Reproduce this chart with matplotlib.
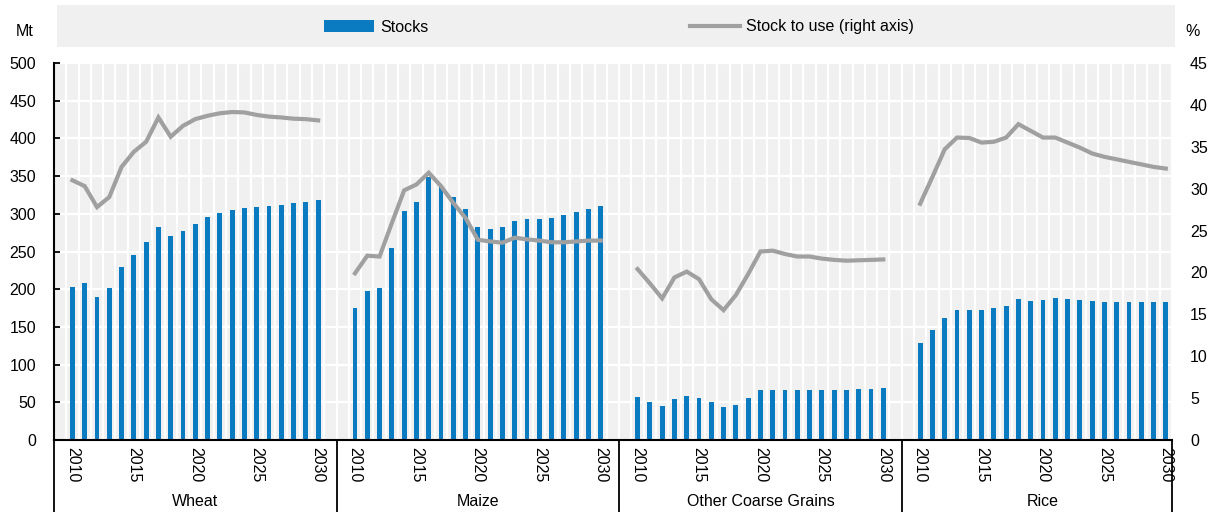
import matplotlib
matplotlib.use("Agg")
import matplotlib.pyplot as plt
from matplotlib.patches import Rectangle
import matplotlib.transforms as mtransforms

plt.rcParams['font.family'] = ['Liberation Sans', 'DejaVu Sans']
plt.rcParams['font.size'] = 11.5

# data
years = list(range(2010, 2031))
groups = ["Wheat", "Maize", "Other Coarse Grains", "Rice"]

wheat_stocks = [203, 208, 190, 201, 229, 245, 262, 283, 270, 277, 287, 296, 301, 305, 308, 309, 310, 312, 314, 316, 318]
maize_stocks = [175, 197, 201, 254, 304, 316, 349, 337, 322, 307, 283, 280, 282, 291, 293, 293, 295, 298, 302, 306, 310]
ocg_stocks = [57, 50, 45, 54, 58, 56, 50, 44, 47, 56, 66, 66, 66, 66, 66, 66, 66, 66, 67, 68, 69]
rice_stocks = [128, 146, 162, 172, 173, 172, 175, 178, 187, 185, 186, 188, 187, 186, 184, 183, 183, 183, 183, 183, 183]

wheat_stu = [31.0, 30.3, 27.8, 29.0, 32.6, 34.4, 35.6, 38.5, 36.2, 37.5, 38.3, 38.7, 39.0, 39.15, 39.1, 38.8, 38.6, 38.5, 38.35, 38.3, 38.15]
maize_stu = [19.9, 22.0, 21.9, 25.9, 29.8, 30.5, 31.9, 30.3, 28.3, 26.5, 23.9, 23.7, 23.55, 24.15, 23.95, 23.8, 23.6, 23.6, 23.7, 23.8, 23.8]
ocg_stu = [20.4, 18.7, 16.9, 19.4, 20.1, 19.2, 16.8, 15.5, 17.3, 19.8, 22.5, 22.6, 22.2, 21.9, 21.9, 21.65, 21.5, 21.4, 21.45, 21.5, 21.55]
rice_stu = [28.2, 31.4, 34.7, 36.1, 36.05, 35.5, 35.6, 36.1, 37.7, 36.9, 36.1, 36.1, 35.5, 34.9, 34.2, 33.8, 33.5, 33.2, 32.9, 32.6, 32.4]

stocks = [wheat_stocks, maize_stocks, ocg_stocks, rice_stocks]
stu = [wheat_stu, maize_stu, ocg_stu, rice_stu]

blue = "#0A7BC1"
grey = "#A0A0A0"
bg = "#F0F0F0"
slot = 23  # 21 years + gap per group

fig = plt.figure(figsize=(12.11, 5.12), dpi=100)
ax = fig.add_axes([54 / 1211, 1 - 440 / 512, (1172 - 54) / 1211, (440 - 63) / 512])
ax.set_facecolor(bg)
ax2 = ax.twinx()

xticks, xlabels = [], []
bar_handle = None
line_handle = None
for g in range(4):
    xs = [g * slot + (y - 2010) for y in years]
    b = ax.bar(xs, stocks[g], width=0.4, color=blue, zorder=2)
    l, = ax2.plot(xs, stu[g], color=grey, lw=3, solid_joinstyle='miter')
    bar_handle, line_handle = b, l
    for y in range(2010, 2031, 5):
        xticks.append(g * slot + (y - 2010))
        xlabels.append(str(y))

ax.set_xlim(-1.5, 3 * slot + 20.5)
ax.set_ylim(0, 500)
ax2.set_ylim(0, 45)
ax.set_yticks(range(0, 501, 50))
ax2.set_yticks(range(0, 46, 5))

ax.set_xticks(xticks)
ax.set_xticklabels(xlabels, rotation=270, va='top', ha='center')
minor = [k - 0.5 for k in range(0, 4 * slot - 1)]
ax.set_xticks(minor, minor=True)
ax.tick_params(axis='x', which='both', length=0, pad=5)
ax.tick_params(axis='y', direction='in', length=4, width=1.3, pad=13)
ax2.tick_params(axis='y', length=0, pad=13)

ax.set_axisbelow(True)
ax.grid(axis='y', which='major', color='white', lw=1.6)
ax.grid(axis='x', which='minor', color='white', lw=1.6)

for s in ['top', 'right']:
    ax.spines[s].set_visible(False)
for s in ['top', 'right', 'left', 'bottom']:
    ax2.spines[s].set_visible(False)
ax.spines['left'].set_linewidth(1.5)
ax.spines['bottom'].set_linewidth(1.5)

# category boxes under the axis
trans = mtransforms.blended_transform_factory(ax.transData, ax.transAxes)
depth = -(512 - 440) / 377
for g in range(5):
    xb = g * slot - 1.5 if g < 4 else 3 * slot + 20.5
    ax.plot([xb, xb], [0, depth], color='black', lw=1.3, transform=trans, clip_on=False)
for g, name in enumerate(groups):
    ax.text(g * slot + 10, -(501 - 440) / 377, name, transform=trans,
            ha='center', va='center')

# legend band
fig.patches.append(Rectangle((57 / 1211, 1 - 47 / 512), (1175 - 57) / 1211, 42 / 512,
                             transform=fig.transFigure, facecolor=bg, edgecolor='none', zorder=0))
fig.legend([bar_handle, line_handle], ["Stocks", "Stock to use (right axis)"],
           loc='center', bbox_to_anchor=(619 / 1211, 1 - 27 / 512), ncol=2, frameon=False,
           handlelength=3.1, handletextpad=0.4, columnspacing=16.4)

fig.text(25 / 1211, 1 - 31 / 512, "Mt", ha='center', va='center')
fig.text(1193 / 1211, 1 - 31 / 512, "%", ha='center', va='center')

fig.savefig("out.png", dpi=100)
